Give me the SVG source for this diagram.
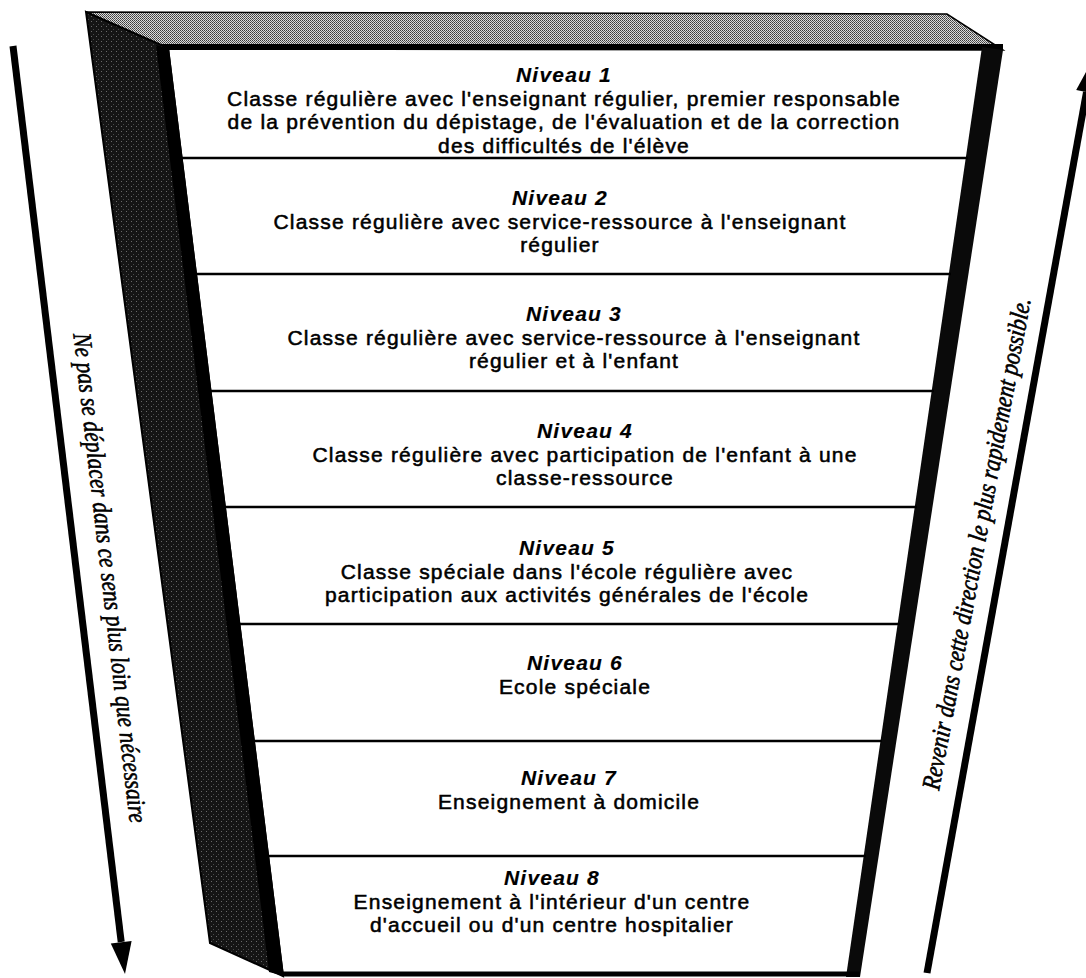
<svg xmlns="http://www.w3.org/2000/svg" width="1086" height="978" viewBox="0 0 1086 978">
<defs>
<pattern id="dark" width="5" height="5" patternUnits="userSpaceOnUse">
<rect width="5" height="5" fill="#151515"/>
<rect x="1" y="1" width="1" height="1" fill="#6a6a6a"/>
<rect x="3" y="4" width="1" height="1" fill="#4a4a4a"/>
</pattern>
<pattern id="light" width="2" height="2" patternUnits="userSpaceOnUse">
<rect width="2" height="2" fill="#dcdcdc"/>
<rect x="0" y="0" width="1" height="1" fill="#3a3a3a"/>
<rect x="1" y="1" width="1" height="1" fill="#5a5a5a"/>
</pattern>
<style>
.t{font-family:"Liberation Sans",Arial,Helvetica,sans-serif;font-size:21px;letter-spacing:1.2px;text-anchor:middle;fill:#000;stroke:#000;stroke-width:0.55}
.n{font-weight:bold;font-style:italic;stroke-width:0.15}
.side{font-family:"Liberation Serif","Times New Roman",serif;font-style:italic;font-size:26px;fill:#000;stroke:#000;stroke-width:0.6;text-anchor:middle}
.div{stroke:#000;stroke-width:2.5;fill:none}
.arrow{stroke:#000;stroke-width:7;fill:none}
.head{fill:#000}
</style>
</defs>
<rect width="1086" height="978" fill="#fff"/>

<g id="frame">
<polygon points="168,50 983,50 847,974 283,974" fill="#fff"/>
<polygon points="86,12 947,14 1003,50 168,49" fill="url(#light)" stroke="#000" stroke-width="1.5"/>
<line x1="150" y1="47" x2="1003" y2="47" stroke="#000" stroke-width="6"/>
<polygon points="86,12 168,48 283,976 210,943" fill="url(#dark)" stroke="#000" stroke-width="2"/>
<polygon points="156,45 169,48 284,976 269,972" fill="#000"/>
<polygon points="982,47 1003,50 860,977 846,977" fill="#0a0a0a"/>
<line x1="283" y1="974" x2="860" y2="974" stroke="#000" stroke-width="5"/>
<line class="div" x1="181" y1="158" x2="968" y2="158"/>
<line class="div" x1="196" y1="274" x2="951" y2="274"/>
<line class="div" x1="210" y1="391" x2="934" y2="391"/>
<line class="div" x1="225" y1="507" x2="917" y2="507"/>
<line class="div" x1="239" y1="624" x2="900" y2="624"/>
<line class="div" x1="254" y1="741" x2="882" y2="741"/>
<line class="div" x1="268" y1="856" x2="866" y2="856"/>
</g>

<g id="niveau1">
<text class="t n" x="564" y="82">Niveau 1</text>
<text class="t" x="564" y="105.5">Classe régulière avec l'enseignant régulier, premier responsable</text>
<text class="t" x="564" y="129">de la prévention du dépistage, de l'évaluation et de la correction</text>
<text class="t" x="564" y="152.5">des difficultés de l'élève</text>
</g>
<g id="niveau2">
<text class="t n" x="560" y="205">Niveau 2</text>
<text class="t" x="560" y="228.5">Classe régulière avec service-ressource à l'enseignant</text>
<text class="t" x="560" y="252">régulier</text>
</g>
<g id="niveau3">
<text class="t n" x="574" y="321">Niveau 3</text>
<text class="t" x="574" y="344.5">Classe régulière avec service-ressource à l'enseignant</text>
<text class="t" x="574" y="368">régulier et à l'enfant</text>
</g>
<g id="niveau4">
<text class="t n" x="585" y="438">Niveau 4</text>
<text class="t" x="585" y="461.5">Classe régulière avec participation de l'enfant à une</text>
<text class="t" x="585" y="485">classe-ressource</text>
</g>
<g id="niveau5">
<text class="t n" x="567" y="555">Niveau 5</text>
<text class="t" x="567" y="578.5">Classe spéciale dans l'école régulière avec</text>
<text class="t" x="567" y="602">participation aux activités générales de l'école</text>
</g>
<g id="niveau6">
<text class="t n" x="575" y="670">Niveau 6</text>
<text class="t" x="575" y="693.5">Ecole spéciale</text>
</g>
<g id="niveau7">
<text class="t n" x="569" y="785">Niveau 7</text>
<text class="t" x="569" y="808.5">Enseignement à domicile</text>
</g>
<g id="niveau8">
<text class="t n" x="552" y="885">Niveau 8</text>
<text class="t" x="552" y="908.5">Enseignement à l'intérieur d'un centre</text>
<text class="t" x="552" y="932">d'accueil ou d'un centre hospitalier</text>
</g>

<g id="connectors">
<line class="arrow" x1="13" y1="46" x2="121.2" y2="942"/>
<polygon class="head" points="125,974 131.6,940.9 110.8,943.5"/>
<line class="arrow" x1="927" y1="973" x2="1086.5" y2="92"/>
<polygon class="head" points="1092.2,60.5 1096.8,93.9 1076.2,90.1"/>
</g>

<g id="labels">
<text class="side" transform="translate(108.5,578) rotate(83.4)" x="0" y="7" textLength="493" lengthAdjust="spacingAndGlyphs">Ne pas se déplacer dans ce sens plus loin que nécessaire</text>
<text class="side" transform="translate(978,544) rotate(-79.4)" x="0" y="7" textLength="500" lengthAdjust="spacingAndGlyphs">Revenir dans cette direction le plus rapidement possible.</text>
</g>
</svg>
